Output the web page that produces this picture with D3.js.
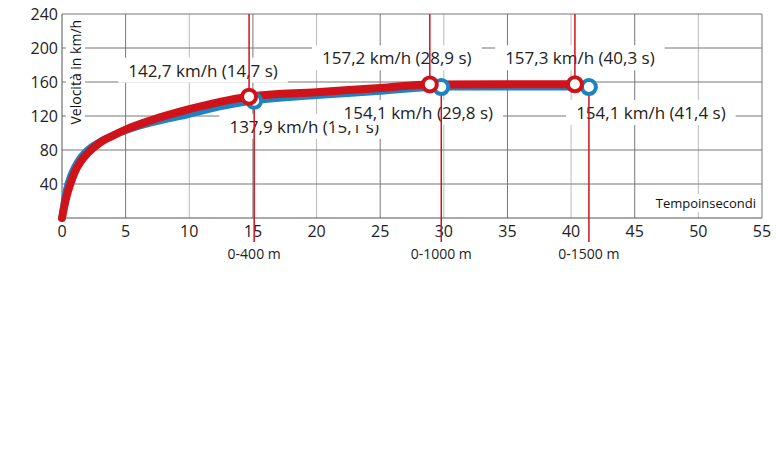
<!DOCTYPE html>
<html><head><meta charset="utf-8">
<script src="https://cdn.jsdelivr.net/npm/d3@7"></script>
<style>body{margin:0;background:#fff}text{font-family:"Myriad Pro","Open Sans","DejaVu Sans",sans-serif}</style>
</head><body><svg id="c" width="776" height="457"></svg>
<script>
// data
var xTicks = [0,5,10,15,20,25,30,35,40,45,50,55]
var yTicks = [40,80,120,160,200,240]
var blueT = [0,0.3,0.7,1,1.5,2,3,4,5,7,10,12.5,15.1,20,25,29.8,35,41.4]
var blueV = [0,30,50,60,72,80,90,97,103,112,122,131,137.9,144,149,154.1,154,154.1]
var redT = [0,0.3,0.7,1,1.5,2,3,4,5,7,10,12.5,14.7,20,25,28.9,35,40.3]
var redV = [0,22,42,54,67,76,89,97,104,115,128,137,142.7,148,153,157.2,157.3,157.3]
var markers = [
  {s:"red", t:14.7, v:142.7, label:"142,7 km/h (14,7 s)", dist:null, dx:-46},
  {s:"blue", t:15.1, v:137.9, label:"137,9 km/h (15,1 s)", dist:"0-400 m", dx:50},
  {s:"red", t:28.9, v:157.2, label:"157,2 km/h (28,9 s)", dist:null, dx:-33},
  {s:"blue", t:29.8, v:154.1, label:"154,1 km/h (29,8 s)", dist:"0-1000 m", dx:-23},
  {s:"red", t:40.3, v:157.3, label:"157,3 km/h (40,3 s)", dist:null, dx:5},
  {s:"blue", t:41.4, v:154.1, label:"154,1 km/h (41,4 s)", dist:"0-1500 m", dx:62}
]
var colors = {red:"#d0121b", blue:"#1c84c0"}

var svg = d3.select("#c")
var x = d3.scaleLinear().domain([0,55]).range([62,762])
var y = d3.scaleLinear().domain([0,240]).range([218,14])

// grid
svg.append("g").selectAll("line").data(xTicks.slice(1)).join("line")
  .attr("x1",d=>x(d)).attr("x2",d=>x(d)).attr("y1",y(240)).attr("y2",y(0))
  .attr("stroke",d=>d%10==0?"#bbb":"#777").attr("stroke-width",1)
svg.append("g").selectAll("line").data(yTicks).join("line")
  .attr("x1",x(0)).attr("x2",x(55)).attr("y1",d=>y(d)).attr("y2",d=>y(d))
  .attr("stroke","#777").attr("stroke-width",1)
svg.append("line").attr("x1",x(0)).attr("x2",x(0)).attr("y1",y(240)).attr("y2",y(0)).attr("stroke","#555")
svg.append("line").attr("x1",x(0)).attr("x2",x(55)).attr("y1",y(0)).attr("y2",y(0)).attr("stroke","#555")

svg.append("g").selectAll("text").data(yTicks).join("text")
  .attr("x",x(0)-4).attr("y",d=>y(d)+6).attr("text-anchor","end")
  .attr("font-size",16).attr("fill","#222").text(d=>d)
svg.append("g").selectAll("text").data(xTicks).join("text")
  .attr("x",d=>x(d)).attr("y",y(0)+19).attr("text-anchor","middle")
  .attr("font-size",16).attr("fill","#222").text(d=>d)

// labels with white boxes
var lab = svg.append("g")
markers.forEach(function(m){
  var ly = m.s=="red" ? y(m.v)-20 : y(m.v)+32
  var g = lab.append("g")
  var t = g.append("text").attr("x",x(m.t)+m.dx).attr("y",ly).attr("text-anchor","middle")
    .attr("font-size",17).attr("fill","#222").text(m.label)
  var b = t.node().getBBox()
  g.insert("rect","text").attr("x",b.x-10).attr("y",b.y-1).attr("width",b.width+20).attr("height",b.height+2).attr("fill","#fff")
})
var tg = svg.append("g")
var tl = tg.append("text").attr("x",x(55)-6).attr("y",y(0)-10).attr("text-anchor","end")
  .attr("font-size",13).attr("fill","#111").text("Tempoinsecondi")
var tb = tl.node().getBBox()
tg.insert("rect","text").attr("x",tb.x-4).attr("y",tb.y).attr("width",tb.width+6).attr("height",tb.height).attr("fill","#fff")

var yg = svg.append("g").attr("transform","translate("+(x(0)+19)+","+(y(110))+") rotate(-90)")
var yl = yg.append("text").attr("font-size",14).attr("fill","#111").text("Velocità in km/h")
var yb = yl.node().getBBox()
yg.insert("rect","text").attr("x",yb.x-2).attr("y",yb.y).attr("width",yb.width+4).attr("height",yb.height).attr("fill","#fff")

// distance lines
markers.forEach(function(m){
  if(m.s=="red"){
    svg.append("line").attr("x1",x(m.t)).attr("x2",x(m.t)).attr("y1",y(240)).attr("y2",y(m.v))
      .attr("stroke",colors.red).attr("stroke-width",1.5)
  } else {
    svg.append("line").attr("x1",x(m.t)).attr("x2",x(m.t)).attr("y1",y(m.v)).attr("y2",y(0)+24)
      .attr("stroke",colors.red).attr("stroke-width",1.5)
    svg.append("text").attr("x",x(m.t)).attr("y",y(0)+41).attr("text-anchor","middle")
      .attr("font-size",14).attr("fill","#222").text(m.dist)
  }
})

// curves
var line = d3.line().x(d=>x(d[0])).y(d=>y(d[1])).curve(d3.curveMonotoneX)
svg.append("path").datum(d3.zip(blueT,blueV)).attr("d",line).attr("fill","none")
  .attr("stroke",colors.blue).attr("stroke-width",7).attr("stroke-linecap","round")
svg.append("path").datum(d3.zip(redT,redV)).attr("d",line).attr("fill","none")
  .attr("stroke",colors.red).attr("stroke-width",8).attr("stroke-linecap","round")

svg.append("g").selectAll("circle").data(markers.filter(m=>m.s=="blue").concat(markers.filter(m=>m.s=="red"))).join("circle")
  .attr("cx",d=>x(d.t)).attr("cy",d=>y(d.v)).attr("r",7)
  .attr("fill","#fff").attr("stroke",d=>colors[d.s]).attr("stroke-width",4)
</script></body></html>
